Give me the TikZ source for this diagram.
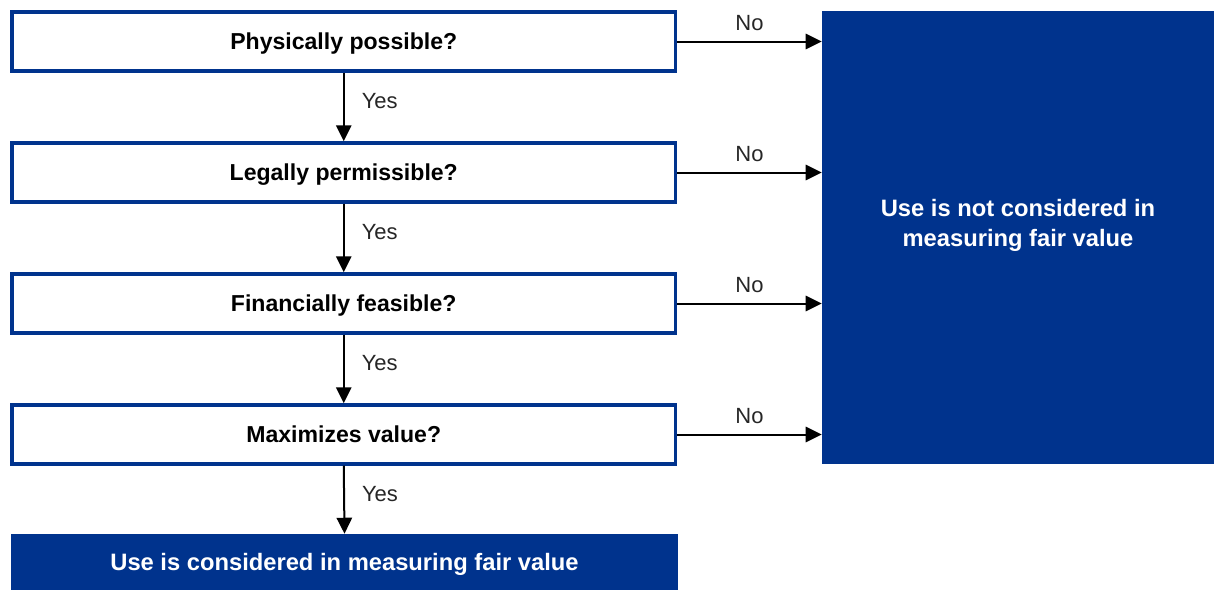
\documentclass[tikz,border=0pt]{standalone}
\usepackage{fontspec}
\setmainfont{Liberation Sans}
\usetikzlibrary{arrows.meta,calc}
\definecolor{kblue}{RGB}{0,51,141}
\begin{document}
\begin{tikzpicture}[x=0.75pt,y=-0.75pt,
  qbox/.style={draw=kblue,line width=2.6pt,fill=white,inner sep=0pt,
    minimum width=497.6pt,minimum height=44.25pt,text height=12.4pt,text depth=0pt,
    font=\fontsize{17.3}{20}\selectfont\bfseries},
  endbox/.style={fill=kblue,text=white,inner sep=0pt,align=center,
    font=\fontsize{17.8}{22}\selectfont\bfseries},
  arr/.style={line width=1.5pt,-{Triangle[length=12pt,width=11.5pt]}},
  lbl/.style={font=\fontsize{16.5}{20}\selectfont,text=black!85,inner sep=0pt}]
\useasboundingbox (0,0) rectangle (1219,589);
\node[qbox] (b1) at (343.75,41.5) {Physically possible?};
\node[qbox] (b2) at (343.75,172.5) {Legally permissible?};
\node[qbox] (b3) at (343.75,303.5) {Financially feasible?};
\node[qbox] (b4) at (343.75,434.5) {Maximizes value?};
\node[endbox,minimum width=500.25pt,minimum height=42pt,text height=12.8pt,text depth=0pt] (yes) at (344.5,562) {Use is considered in measuring fair value};
\node[endbox,minimum width=294pt,minimum height=339.75pt] (no) at (1018,237.5) {};
\node[endbox] (notxt) at (1018,225.5) {Use is not considered in\\measuring fair value};
\foreach \a/\b in {b1/b2,b2/b3,b3/b4,b4/yes}{
  \draw[arr] (\a.south) -- node[lbl,pos=0.42,anchor=west,xshift=12.75pt]{Yes} (\b.north);
}
\foreach \a in {b1,b2,b3,b4}{
  \draw[arr] (\a.east) -- node[lbl,anchor=south,yshift=7pt]{No} (\a.east -| no.west);
}
\end{tikzpicture}
\end{document}
